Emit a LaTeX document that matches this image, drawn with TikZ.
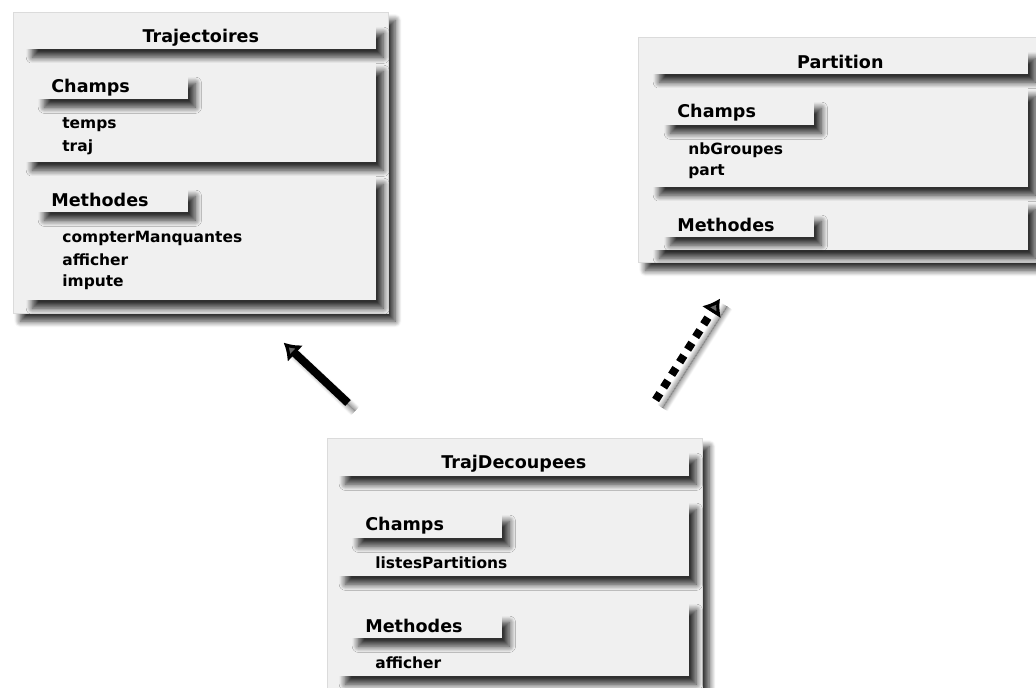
\documentclass[tikz,border=0pt]{standalone}
\usepackage{fontspec}
\setmainfont{DejaVu Sans}
\usetikzlibrary{arrows.meta,shadows.blur}

\tikzset{
  ombre/.style={blur shadow={shadow xshift=4pt,shadow yshift=-4.5pt,shadow blur radius=3.5pt,
    shadow blur steps=10,shadow opacity=80}},
  classe/.style={draw=black!14,fill=black!6,ombre,anchor=north west,inner sep=0pt},
  section/.style={fill=black!6,ombre,anchor=north west,inner sep=0pt},
  titre/.style={fill=black!6,ombre,anchor=north west,inner sep=0pt,minimum height=0.48cm,
    font=\bfseries\fontsize{10}{12}\selectfont},
  etiquette/.style={fill=black!6,ombre,anchor=north west,inner xsep=0.28cm,inner ysep=0pt,
    minimum height=0.48cm,text width=2.46cm,align=left,font=\bfseries\fontsize{10}{12}\selectfont},
  membre/.style={anchor=west,inner sep=0pt,font=\bfseries\fontsize{8.8}{10}\selectfont},
  herite/.style={line width=4.6pt,-{Latex[length=9pt,width=13pt]},ombre},
  utilise/.style={line width=4.6pt,dash pattern=on 4.5pt off 4pt,-{Latex[length=9pt,width=13pt]},ombre}
}

\begin{document}
\begin{tikzpicture}[x=0.02cm,y=0.02cm]
  \useasboundingbox (0,0) rectangle (1036,688);

  % Trajectoires
  \node[classe,minimum width=7.5cm,minimum height=6.02cm] (traj) at (13,676) {};
  \node[titre,minimum width=7.02cm] (trajTitre) at (25,663) {Trajectoires};
  \node[section,minimum width=7.02cm,minimum height=1.98cm] (trajChamps) at (25,625) {};
  \node[etiquette] (trajChampsLbl) at (37,613) {Champs};
  \node[membre] (temps) at (62,563) {temps};
  \node[membre] (trajVal) at (62,541) {traj};
  \node[section,minimum width=7.02cm,minimum height=2.48cm] (trajMeth) at (25,512) {};
  \node[etiquette] (trajMethLbl) at (37,500) {Methodes};
  \node[membre] (compter) at (62,450) {compterManquantes};
  \node[membre] (afficherA) at (62,428) {afficher};
  \node[membre] (impute) at (62,406) {impute};

  % Partition
  \node[classe,minimum width=8cm,minimum height=4.5cm] (part) at (638,651) {};
  \node[titre,minimum width=7.52cm] (partTitre) at (652,638) {Partition};
  \node[section,minimum width=7.52cm,minimum height=1.98cm] (partChamps) at (652,600) {};
  \node[etiquette,minimum height=0.5cm] (partChampsLbl) at (663,588) {Champs};
  \node[membre] (nbGroupes) at (688,538) {nbGroupes};
  \node[membre] (partVal) at (688,516) {part};
  \node[section,minimum width=7.52cm,minimum height=0.98cm] (partMeth) at (652,487) {};
  \node[etiquette] (partMethLbl) at (663,475) {Methodes};

  % TrajDecoupees
  \node[classe,minimum width=7.5cm,minimum height=5.2cm] (decoupe) at (327,250) {};
  \node[titre,minimum width=7.02cm,minimum height=0.5cm] (decoupeTitre) at (338,237) {TrajDecoupees};
  \node[section,minimum width=7.02cm,minimum height=1.5cm] (decoupeChamps) at (338,187) {};
  \node[etiquette,minimum height=0.5cm] (decoupeChampsLbl) at (351,175) {Champs};
  \node[membre] (listes) at (375,125) {listesPartitions};
  \node[section,minimum width=7.02cm,minimum height=1.48cm] (decoupeMeth) at (338,86) {};
  \node[etiquette] (decoupeMethLbl) at (351,74) {Methodes};
  \node[membre] (afficherB) at (375,25) {afficher};

  % liens
  \draw[herite] ([shift={(21,35)}]decoupe.north west) -- ([shift={(-105,-29)}]traj.south east);
  \draw[utilise] ([shift={(-47,38)}]decoupe.north east) -- ([shift={(82,-36)}]part.south west);
\end{tikzpicture}
\end{document}
